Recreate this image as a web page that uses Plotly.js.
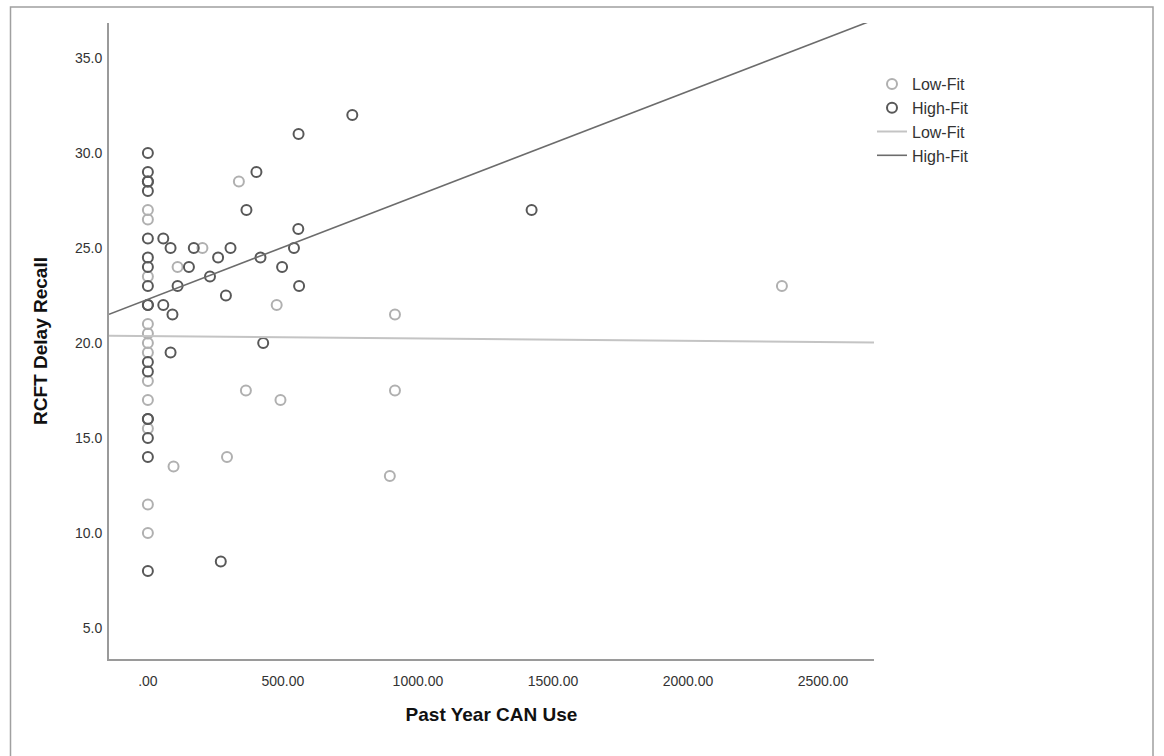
<!DOCTYPE html>
<html>
<head>
<meta charset="utf-8">
<script src="https://cdn.plot.ly/plotly-3.0.1.min.js"></script>
<style>
  html, body { margin: 0; padding: 0; background: #ffffff; }
  #chart { width: 1164px; height: 756px; }
</style>
</head>
<body>
<div id="chart"></div>
<script>
// ---- Data ----
// Low-Fit group (light circles)
const lowFitX = [0, 0, 0, 0, 0, 0, 0, 0, 0, 0, 0, 0,
                 202, 110, 337, 477, 915, 363, 491, 915, 293, 95, 896, 2348];
const lowFitY = [27.0, 26.5, 23.5, 21.0, 20.5, 20.0, 19.5, 18.0, 17.0, 15.5, 11.5, 10.0,
                 25.0, 24.0, 28.5, 22.0, 21.5, 17.5, 17.0, 17.5, 14.0, 13.5, 13.0, 23.0];

// High-Fit group (dark circles)
const highFitX = [0, 0, 0, 0, 0, 0, 0, 0, 0, 0, 0, 0, 0, 0, 0, 0, 0, 0,
                  57, 84, 170, 152, 260, 306, 230, 110, 289, 57, 91, 402, 365,
                  557, 541, 417, 497, 560, 427, 84, 757, 558, 1421, 270];
const highFitY = [30.0, 29.0, 28.5, 28.5, 28.0, 25.5, 24.5, 24.0, 23.0, 22.0, 22.0,
                  19.0, 18.5, 16.0, 16.0, 15.0, 14.0, 8.0,
                  25.5, 25.0, 25.0, 24.0, 24.5, 25.0, 23.5, 23.0, 22.5, 22.0, 21.5, 29.0, 27.0,
                  26.0, 25.0, 24.5, 24.0, 23.0, 20.0, 19.5, 32.0, 31.0, 27.0, 8.5];

// Fit lines (intercept, slope)
const lowFitLine = {intercept: 20.36, slope: -0.000126};
const highFitLine = {intercept: 22.30, slope: 0.005471};

// Axis extents and ticks
const xRange = [-144, 2689];
const yRange = [3.37, 36.84];
const xTickVals = [0, 500, 1000, 1500, 2000, 2500];
const xTickText = ['.00', '500.00', '1000.00', '1500.00', '2000.00', '2500.00'];
const yTickVals = [5, 10, 15, 20, 25, 30, 35];
const yTickText = ['5.0', '10.0', '15.0', '20.0', '25.0', '30.0', '35.0'];

const seriesNames = ['Low-Fit', 'High-Fit'];
const xTitle = 'Past Year CAN Use';
const yTitle = 'RCFT Delay Recall';

// ---- Build traces ----
function lineY(fit, xs) { return xs.map(x => fit.intercept + fit.slope * x); }

const FONT = '"Liberation Sans", Arial, sans-serif';
const lightCol = 'rgb(176,176,176)';
const darkCol = 'rgb(88,88,88)';

const traces = [
  {
    type: 'scatter', mode: 'markers', name: seriesNames[0],
    x: lowFitX, y: lowFitY, legendgroup: 'a',
    marker: {symbol: 'circle-open', size: 10, color: lightCol, line: {width: 2, color: lightCol}},
    cliponaxis: false
  },
  {
    type: 'scatter', mode: 'markers', name: seriesNames[1],
    x: highFitX, y: highFitY, legendgroup: 'b',
    marker: {symbol: 'circle-open', size: 10, color: darkCol, line: {width: 2, color: darkCol}},
    cliponaxis: false
  },
  {
    type: 'scatter', mode: 'lines', name: seriesNames[0],
    x: xRange, y: lineY(lowFitLine, xRange), legendgroup: 'c',
    line: {color: 'rgb(196,196,196)', width: 2}
  },
  {
    type: 'scatter', mode: 'lines', name: seriesNames[1],
    x: xRange, y: lineY(highFitLine, xRange), legendgroup: 'd',
    line: {color: 'rgb(108,108,108)', width: 1.6}
  }
];

const plotL = 109, plotR = 874, plotT = 23, plotB = 659;
const W = 1164, H = 756;
const pw = plotR - plotL, ph = plotB - plotT;
function px2paperX(p) { return (p - plotL) / pw; }
function px2paperY(p) { return (plotB - p) / ph; }

const layout = {
  width: W, height: H,
  margin: {l: plotL, r: W - plotR, t: plotT, b: H - plotB, pad: 0},
  paper_bgcolor: '#ffffff', plot_bgcolor: '#ffffff',
  font: {family: FONT, size: 14, color: '#333333'},
  showlegend: true,
  legend: {
    x: px2paperX(872), y: px2paperY(67), xanchor: 'left', yanchor: 'top',
    font: {family: FONT, size: 16, color: '#333333'},
    bgcolor: 'rgba(0,0,0,0)', borderwidth: 0,
    tracegroupgap: 0, itemwidth: 30
  },
  xaxis: {
    range: xRange, tickmode: 'array', tickvals: xTickVals, ticktext: xTickText,
    showgrid: false, zeroline: false, showline: true, linecolor: '#9a9a9a', linewidth: 2,
    ticks: 'outside', ticklen: 8, tickcolor: 'rgba(0,0,0,0)',
    tickfont: {family: FONT, size: 14, color: '#333333'},
    title: {text: xTitle, font: {family: FONT, size: 19, color: '#111111', weight: 'bold'}, standoff: 20}
  },
  yaxis: {
    range: yRange, tickmode: 'array', tickvals: yTickVals, ticktext: yTickText,
    showgrid: false, zeroline: false, showline: true, linecolor: '#9a9a9a', linewidth: 2,
    ticks: 'outside', ticklen: 2, tickcolor: 'rgba(0,0,0,0)',
    tickfont: {family: FONT, size: 14, color: '#333333'},
    title: {text: yTitle, font: {family: FONT, size: 19, color: '#111111', weight: 'bold'}, standoff: 22}
  },
  shapes: [
    {type: 'rect', xref: 'paper', yref: 'paper',
     x0: px2paperX(10.5), x1: px2paperX(1153), y0: px2paperY(790), y1: px2paperY(7),
     line: {color: '#a0a0a0', width: 1.5}, fillcolor: 'rgba(0,0,0,0)', layer: 'below'}
  ]
};

Plotly.newPlot('chart', traces, layout, {displayModeBar: false, staticPlot: true});
</script>
</body>
</html>
